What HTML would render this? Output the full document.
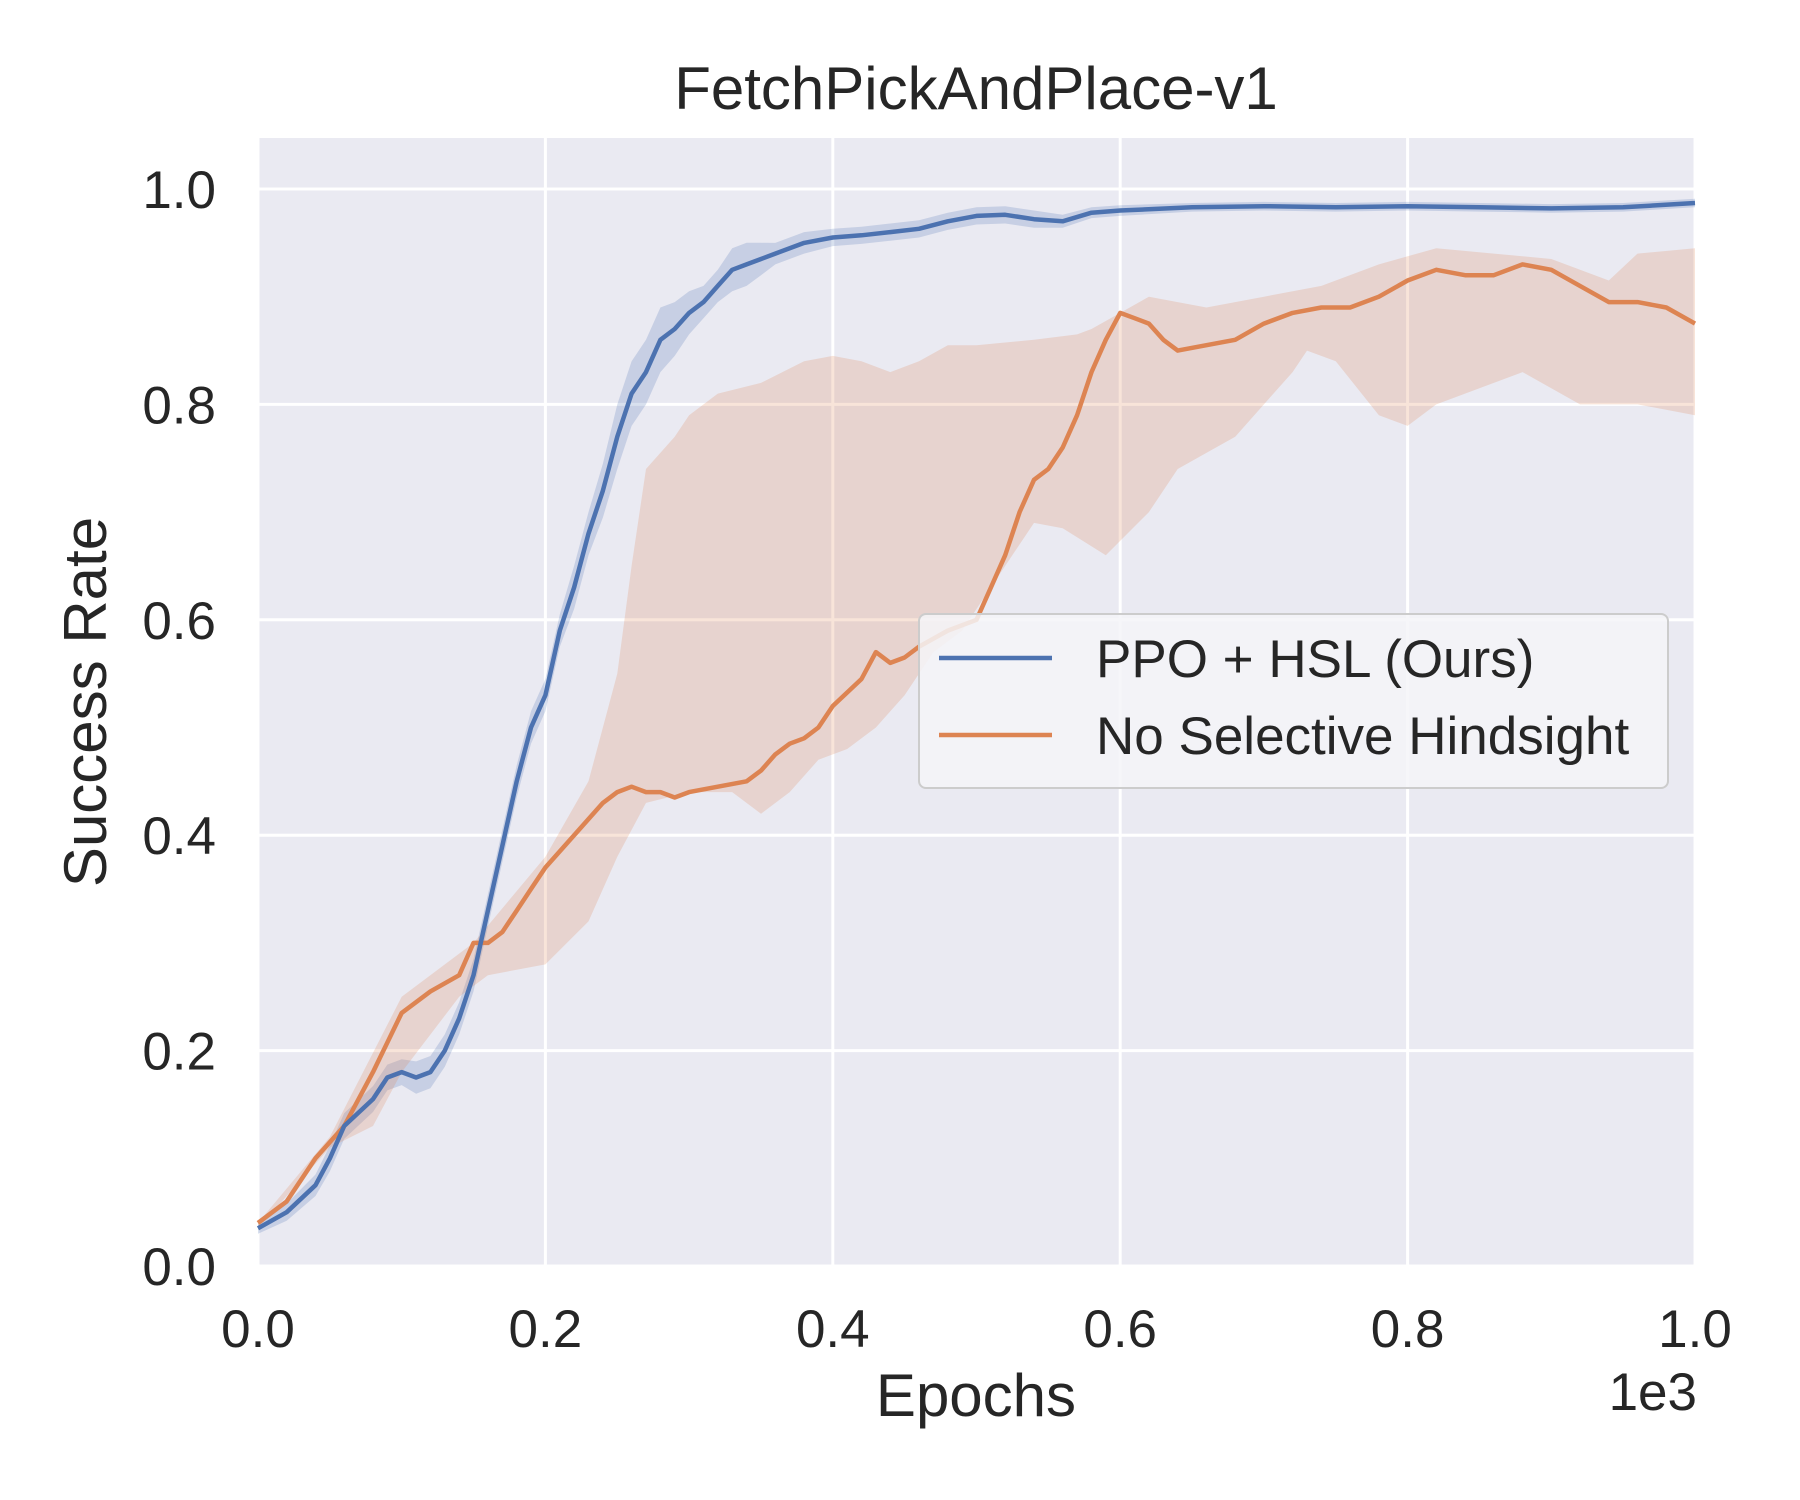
<!DOCTYPE html>
<html><head><meta charset="utf-8">
<style>
html,body{margin:0;padding:0;background:#fff;}
svg{display:block;font-family:"Liberation Sans",Arial,sans-serif;}
</style></head>
<body>
<svg id="chart" width="1800" height="1500" viewBox="0 0 1800 1500">
  <rect x="258" y="138" width="1437" height="1128" fill="#eaeaf2"/>
  <g id="grid"></g>
  <g id="bands"></g>
  <g id="lines"></g>
  <g id="ticks" fill="#262626" font-size="53"></g>
  <text x="976" y="109" text-anchor="middle" font-size="60" fill="#262626">FetchPickAndPlace-v1</text>
  <text x="976" y="1416" text-anchor="middle" font-size="60" fill="#262626">Epochs</text>
  <text x="1697" y="1410" text-anchor="end" font-size="53" fill="#262626">1e3</text>
  <text transform="translate(106,702) rotate(-90)" text-anchor="middle" font-size="60" fill="#262626">Success Rate</text>
  <g>
    <rect x="919" y="614" width="749" height="174" rx="7" fill="#f4f4f8" fill-opacity="0.85" stroke="#cccccc" stroke-width="2"/>
    <g>
      <line x1="939" y1="658" x2="1052" y2="658" stroke="#4c72b0" stroke-width="4.5"/>
      <text x="1096" y="677" font-size="53" fill="#262626">PPO + HSL (Ours)</text>
    </g>
    <g>
      <line x1="939" y1="735" x2="1052" y2="735" stroke="#dd8452" stroke-width="4.5"/>
      <text x="1096" y="754" font-size="53" fill="#262626">No Selective Hindsight</text>
    </g>
  </g>
</svg>
<script>
const xTicks = [0, 200, 400, 600, 800, 1000];
const xTickLabels = ["0.0","0.2","0.4","0.6","0.8","1.0"];
const yTicks = [0, 0.2, 0.4, 0.6, 0.8, 1.0];
const yTickLabels = ["0.0","0.2","0.4","0.6","0.8","1.0"];

const blueX = [0,20,40,50,60,80,90,100,110,120,130,140,150,160,170,180,190,200,210,220,230,240,250,260,270,280,290,300,310,320,330,340,350,360,380,400,420,440,460,480,500,520,540,560,580,600,650,700,750,800,850,900,950,1000];
const blueMean = [0.035,0.05,0.075,0.1,0.13,0.155,0.175,0.18,0.175,0.18,0.2,0.23,0.27,0.33,0.39,0.45,0.5,0.53,0.59,0.63,0.68,0.72,0.77,0.81,0.83,0.86,0.87,0.885,0.895,0.91,0.925,0.93,0.935,0.94,0.95,0.955,0.957,0.96,0.963,0.97,0.975,0.976,0.972,0.97,0.978,0.98,0.983,0.984,0.983,0.984,0.983,0.982,0.983,0.987];
const blueSpread = [0.005,0.008,0.01,0.012,0.012,0.012,0.012,0.012,0.015,0.015,0.015,0.015,0.015,0.015,0.015,0.015,0.015,0.015,0.015,0.02,0.02,0.025,0.03,0.03,0.03,0.03,0.025,0.02,0.015,0.015,0.02,0.02,0.015,0.01,0.01,0.008,0.008,0.008,0.008,0.008,0.008,0.008,0.008,0.006,0.005,0.005,0.004,0.004,0.004,0.004,0.004,0.004,0.004,0.004];

const orangeX = [0,20,40,60,80,100,120,140,150,160,170,180,190,200,220,240,250,260,270,280,290,300,320,340,350,360,370,380,390,400,420,430,440,450,460,480,500,510,520,530,540,550,560,570,580,590,600,610,620,630,640,660,680,700,720,740,760,780,800,820,840,860,880,900,920,940,960,980,1000];
const orangeMean = [0.04,0.06,0.1,0.13,0.18,0.235,0.255,0.27,0.3,0.3,0.31,0.33,0.35,0.37,0.4,0.43,0.44,0.445,0.44,0.44,0.435,0.44,0.445,0.45,0.46,0.475,0.485,0.49,0.5,0.52,0.545,0.57,0.56,0.565,0.575,0.59,0.6,0.63,0.66,0.7,0.73,0.74,0.76,0.79,0.83,0.86,0.885,0.88,0.875,0.86,0.85,0.855,0.86,0.875,0.885,0.89,0.89,0.9,0.915,0.925,0.92,0.92,0.93,0.925,0.91,0.895,0.895,0.89,0.875];
const orangeUpperX = [0,50,100,150,200,230,250,260,270,290,300,320,350,380,400,420,440,460,480,500,540,570,580,600,620,660,700,740,780,820,860,900,940,960,1000];
const orangeUpper = [0.04,0.12,0.25,0.3,0.38,0.45,0.55,0.65,0.74,0.77,0.79,0.81,0.82,0.84,0.845,0.84,0.83,0.84,0.855,0.855,0.86,0.865,0.87,0.885,0.9,0.89,0.9,0.91,0.93,0.945,0.94,0.935,0.915,0.94,0.945];
const orangeLowerX = [0,50,80,100,140,160,200,230,250,270,300,330,350,370,390,410,430,450,470,490,520,540,560,590,620,640,660,680,700,720,730,750,780,800,820,860,880,920,960,1000];
const orangeLower = [0.035,0.11,0.13,0.18,0.25,0.27,0.28,0.32,0.38,0.43,0.44,0.44,0.42,0.44,0.47,0.48,0.5,0.53,0.57,0.59,0.65,0.69,0.685,0.66,0.7,0.74,0.755,0.77,0.8,0.83,0.85,0.84,0.79,0.78,0.8,0.82,0.83,0.8,0.8,0.79];

const PL=258, PR=1695, PT=138, PB=1266;
function xs(v){ return PL + (v-0)/(1000-0)*(PR-PL); }
function ys(v){ return PB - v*(PB-189); }
const NS='http://www.w3.org/2000/svg';
function mk(tag, attrs, parent){ const e=document.createElementNS(NS,tag); for(const k in attrs) e.setAttribute(k,attrs[k]); parent.appendChild(e); return e; }

const grid=document.getElementById('grid');
const ticks=document.getElementById('ticks');
xTicks.forEach((t,i)=>{
  const l=mk('line',{x1:xs(t),x2:xs(t),y1:PT,y2:PB,stroke:'#fff','stroke-width':3},grid);
  
  
  const tx=mk('text',{x:xs(t),y:1347,'text-anchor':'middle'},ticks);
  tx.textContent=xTickLabels[i];
  
  
});
yTicks.forEach((t,i)=>{
  const l=mk('line',{x1:PL,x2:PR,y1:ys(t),y2:ys(t),stroke:'#fff','stroke-width':3},grid);
  
  
  const tx=mk('text',{x:216,y:ys(t)+19,'text-anchor':'end'},ticks);
  tx.textContent=yTickLabels[i];
  
  
});

const bands=document.getElementById('bands');
const lines=document.getElementById('lines');
function pts(X,Y){ return X.map((x,i)=>xs(x).toFixed(1)+','+ys(Y[i]).toFixed(1)); }

const bU=blueMean.map((m,i)=>Math.min(m+blueSpread[i],1));
const bL=blueMean.map((m,i)=>m-blueSpread[i]);
const bp=pts(blueX,bU).concat(pts(blueX,bL).reverse());
const bb=mk('polygon',{points:bp.join(' '),fill:'#4c72b0','fill-opacity':0.22},bands);



const op=pts(orangeUpperX,orangeUpper).concat(pts(orangeLowerX,orangeLower).reverse());
const ob=mk('polygon',{points:op.join(' '),fill:'#dd8452','fill-opacity':0.22},bands);



const ol=mk('polyline',{points:pts(orangeX,orangeMean).join(' '),fill:'none',stroke:'#dd8452','stroke-width':4.5,'stroke-linejoin':'round'},lines);


const bl=mk('polyline',{points:pts(blueX,blueMean).join(' '),fill:'none',stroke:'#4c72b0','stroke-width':4.5,'stroke-linejoin':'round'},lines);


</script>
</body></html>
